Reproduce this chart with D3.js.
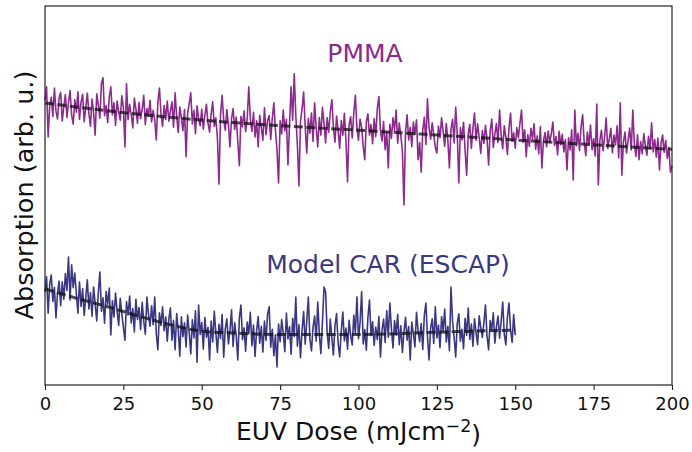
<!DOCTYPE html>
<html>
<head>
<meta charset="utf-8">
<script src="https://cdn.jsdelivr.net/npm/d3@7"></script>
<style>
  body { margin: 0; background: #fff; }
  svg text { font-family: "DejaVu Sans", sans-serif; }
</style>
</head>
<body>
<svg id="chart" width="692" height="452"></svg>
<script>
// dose step of the measurements (mJ/cm^2)
let doseStep = 0.5;

let pmmaValues = [
  75.2, 78.9, 65.5, 73.8, 76.1, 71.0, 78.6, 72.4, 70.3, 75.9,
  77.4, 69.8, 73.6, 76.8, 70.7, 74.9, 77.9, 71.3, 68.9, 75.4,
  72.1, 77.6, 70.2, 74.8, 76.9, 69.6, 73.3, 77.2, 71.8, 68.4,
  75.6, 72.0, 66.0, 77.0, 74.1, 70.5, 79.8, 81.3, 71.2, 73.9,
  69.3, 76.2, 78.9, 71.4, 74.6, 68.6, 75.1, 72.2, 70.0, 76.5,
  73.4, 62.8, 79.7, 70.1, 74.2, 71.5, 67.9, 75.8, 73.0, 69.2,
  74.7, 70.4, 72.9, 76.6, 68.8, 73.1, 71.0, 75.3, 69.5, 72.6,
  70.1, 64.7, 74.8, 78.6, 71.6, 68.3, 73.9, 70.2, 75.1, 69.7,
  72.4, 74.9, 68.1, 77.3, 71.0, 66.7, 73.5, 70.6, 67.2, 72.8,
  60.2, 71.9, 74.4, 77.3, 69.0, 72.6, 66.4, 73.8, 70.2, 68.5,
  72.9, 67.6, 71.4, 74.2, 69.1, 66.8, 71.7, 74.9, 68.3, 70.6,
  65.2, 52.9, 71.6, 76.6, 70.0, 67.3, 72.8, 68.9, 62.8, 70.4,
  73.1, 67.5, 70.8, 64.2, 57.8, 71.0, 68.2, 72.5, 66.9, 70.3,
  78.9, 70.4, 67.0, 72.1, 65.5, 69.8, 62.8, 71.3, 68.0, 64.6,
  73.3, 66.1, 69.9, 71.2, 64.8, 70.5, 74.6, 67.4, 62.0, 53.2,
  69.8, 66.3, 72.7, 67.1, 70.2, 58.0, 68.9, 78.9, 70.0, 82.4,
  71.3, 63.5, 52.4, 69.7, 73.0, 77.5, 68.2, 61.2, 70.4, 66.5,
  71.9, 64.3, 74.6, 68.1, 62.8, 70.7, 66.0, 73.4, 69.2, 63.9,
  70.6, 66.8, 72.3, 75.4, 68.0, 64.1, 71.1, 67.3, 62.5, 69.9,
  66.0, 71.8, 64.4, 53.5, 68.7, 70.9, 65.2, 72.0, 76.6, 67.8,
  64.6, 70.3, 68.1, 62.9, 59.4, 69.5, 71.7, 66.0, 68.8, 63.7,
  70.4, 65.6, 73.0, 76.3, 67.2, 64.4, 69.6, 62.1, 66.8, 57.2,
  68.9, 65.1, 70.6, 67.3, 72.7, 63.8, 69.2, 65.9, 61.6, 47.3,
  66.8, 71.4, 64.7, 68.1, 62.9, 69.5, 66.2, 70.1, 59.4, 64.0,
  56.1, 67.4, 70.8, 63.5, 75.7, 68.0, 64.9, 69.3, 66.1, 62.7,
  61.2, 68.4, 65.3, 70.6, 66.9, 63.0, 69.1, 64.5, 57.2, 67.6,
  70.2, 63.9, 73.5, 66.3, 53.2, 68.0, 64.7, 69.4, 61.8, 55.3,
  66.2, 68.9, 62.4, 67.8, 71.9, 64.6, 69.0, 65.3, 61.1, 67.2,
  63.8, 68.6, 64.9, 58.0, 67.1, 70.3, 62.7, 66.4, 69.1, 64.0,
  72.7, 66.0, 62.3, 68.5, 65.4, 60.8, 67.9, 71.9, 64.3, 66.6,
  62.5, 68.0, 65.3, 69.2, 72.7, 64.1, 67.4, 60.2, 66.1, 63.0,
  67.8, 64.9, 69.0, 62.2, 65.8, 61.0, 68.2, 57.2, 64.4, 66.7,
  62.9, 67.1, 64.0, 66.4, 69.5, 63.2, 65.6, 60.7, 67.0, 63.4,
  66.2, 61.5, 64.8, 56.7, 65.3, 62.0, 67.4, 54.0, 72.7, 63.1,
  66.5, 61.9, 68.2, 71.4, 64.0, 60.5, 66.8, 63.3, 68.7, 62.1,
  65.0, 60.4, 74.3, 52.7, 64.6, 67.3, 61.8, 65.5, 70.6, 62.4,
  64.9, 67.8, 61.3, 66.0, 63.4, 68.5, 59.9, 74.6, 55.3, 64.1,
  66.8, 61.2, 64.5, 67.9, 62.0, 72.7, 63.6, 60.3, 66.1, 59.4,
  64.3, 61.0, 66.4, 63.2, 60.6, 65.7, 62.4, 69.3, 61.5, 64.8,
  60.1, 65.2, 56.7, 63.9, 66.0, 61.4, 64.6, 59.8, 62.7, 56.1,
  57.8
];

let escapValues = [
  24.0, 28.1, 18.4, 26.2, 28.6, 21.5, 25.3, 17.1, 23.8, 27.0,
  20.4, 26.8, 22.1, 29.0, 24.5, 33.4, 21.9, 31.3, 25.2, 29.1,
  23.6, 18.4, 26.7, 20.2, 24.9, 17.8, 22.6, 27.3, 19.5, 23.9,
  17.6, 25.4, 21.0, 16.3, 23.8, 29.4, 18.9, 22.5, 15.7, 24.2,
  20.8, 25.1, 12.6, 21.7, 17.4, 23.8, 19.0, 15.1, 22.4, 18.2,
  14.6, 11.2, 21.5, 17.9, 23.0, 15.8, 19.6, 13.4, 22.1, 16.7,
  19.9, 14.0, 21.3, 16.2, 12.8, 22.7, 18.1, 14.9, 20.4, 15.3,
  22.7, 12.9, 8.6, 18.5, 15.1, 20.1, 13.7, 17.4, 10.9, 16.8,
  19.8, 11.2, 16.5, 8.6, 18.3, 13.9, 6.9, 17.4, 12.1, 15.8,
  9.4, 17.9, 13.2, 7.5, 16.6, 11.8, 19.0, 5.3, 20.6, 12.7,
  15.9, 8.8, 17.2, 12.0, 14.6, 5.9, 16.3, 10.7, 18.9, 13.1,
  7.9, 15.4, 11.6, 18.0, 6.6, 14.2, 16.9, 10.2, 13.7, 19.3,
  9.5, 15.8, 12.4, 5.9, 17.1, 20.6, 11.3, 14.5, 8.2, 16.0,
  12.9, 18.6, 9.7, 15.2, 6.8, 13.8, 17.5, 10.4, 14.9, 8.0,
  16.3, 11.1, 18.2, 20.1, 9.3, 14.1, 7.0, 12.6, 4.0, 15.5,
  10.8, 16.7, 13.0, 8.1, 18.4, 11.5, 14.8, 7.4, 17.0, 12.2,
  22.7, 9.6, 15.3, 6.5, 13.9, 18.8, 10.1, 16.2, 22.7, 11.4,
  8.3, 14.7, 17.6, 10.9, 21.4, 12.8, 7.6, 16.0, 25.4, 24.1,
  13.2, 9.0, 16.8, 11.7, 7.2, 15.1, 18.3, 10.5, 6.7, 13.6,
  18.7, 11.0, 14.4, 8.8, 16.5, 12.3, 9.9, 17.8, 13.0, 22.7,
  11.6, 15.9, 24.1, 10.2, 14.0, 8.5, 17.2, 21.9, 12.4, 16.1,
  9.8, 14.7, 11.3, 17.5, 6.7, 13.9, 16.8, 10.6, 19.0, 12.0,
  21.1, 14.3, 9.1, 16.4, 12.6, 18.1, 10.0, 15.0, 7.9, 13.5,
  17.3, 11.2, 14.8, 5.9, 16.0, 12.9, 9.4, 18.6, 13.7, 10.8,
  15.6, 8.7, 17.9, 21.1, 12.1, 5.9, 14.4, 16.9, 10.3, 20.1,
  11.8, 15.2, 9.2, 17.4, 13.6, 19.5, 10.7, 14.9, 8.4, 25.4,
  16.3, 12.0, 6.7, 15.7, 18.2, 10.9, 14.1, 8.9, 17.0, 12.5,
  19.8, 11.4, 15.5, 9.6, 16.9, 13.2, 10.0, 17.7, 14.6, 11.9,
  15.8, 20.6, 12.3, 8.6, 16.4, 13.9, 18.5, 10.4, 14.8, 17.6,
  11.7, 16.2, 21.4, 12.8, 9.9, 17.3, 21.1, 14.0, 10.6, 18.0,
  12.5
];

// fitted curves
let pmmaFitDose = [0, 25, 50, 75, 100, 125, 150, 175, 200];
let pmmaFit = [74.6, 72.0, 70.0, 68.5, 67.3, 66.0, 64.7, 63.4, 62.2];
let escapFitDose = [0, 10, 20, 30, 40, 50, 60, 75, 100, 125, 150];
let escapFit = [24.9, 22.4, 20.1, 17.6, 15.3, 13.6, 13.1, 12.7, 12.7, 13.3, 13.9];

let xTicks = [0, 25, 50, 75, 100, 125, 150, 175, 200];

let width = 692;
let height = 452;
let margin = {top: 6, right: 20, bottom: 67, left: 45};
let contentWidth = width - margin.left - margin.right;
let contentHeight = height - margin.top - margin.bottom;

let pmmaColor = '#8c2a8e';
let escapColor = '#3a3783';

let x = d3.scaleLinear().domain([0, 200]).range([0, contentWidth]);
let y = d3.scaleLinear().domain([-0.8, 100.5]).range([contentHeight, 0]);

let svg = d3.select('#chart');
let g = svg.append('g').attr('transform', 'translate(' + margin.left + ',' + margin.top + ')');

function toPoints(values) {
    return values.map(function (v, i) { return [i * doseStep, v]; });
}

let line = d3.line()
    .x(function (d) { return x(d[0]); })
    .y(function (d) { return y(d[1]); });

let fitLine = d3.line()
    .curve(d3.curveMonotoneX)
    .x(function (d) { return x(d[0]); })
    .y(function (d) { return y(d[1]); });

g.append('path').datum(toPoints(pmmaValues))
    .attr('d', line)
    .attr('fill', 'none')
    .attr('stroke', pmmaColor)
    .attr('stroke-width', 1.6)
    .attr('stroke-linejoin', 'round');

g.append('path').datum(toPoints(escapValues))
    .attr('d', line)
    .attr('fill', 'none')
    .attr('stroke', escapColor)
    .attr('stroke-width', 1.6)
    .attr('stroke-linejoin', 'round');

g.append('path').datum(d3.zip(pmmaFitDose, pmmaFit))
    .attr('d', fitLine)
    .attr('fill', 'none')
    .attr('stroke', '#111')
    .attr('stroke-opacity', 0.75)
    .attr('stroke-width', 3)
    .attr('stroke-dasharray', '9,3.5');

g.append('path').datum(d3.zip(escapFitDose, escapFit))
    .attr('d', fitLine)
    .attr('fill', 'none')
    .attr('stroke', '#111')
    .attr('stroke-opacity', 0.75)
    .attr('stroke-width', 3)
    .attr('stroke-dasharray', '9,3.5');

// x axis
let xAxis = d3.axisBottom(x).tickValues(xTicks).tickSize(5).tickPadding(7);
let xg = g.append('g').attr('transform', 'translate(0,' + contentHeight + ')').call(xAxis);
xg.select('.domain').remove();
xg.selectAll('line').attr('stroke', '#222').attr('stroke-width', 1.1);
xg.selectAll('text').attr('font-size', '18px').attr('fill', '#111')
    .style('font-family', '"DejaVu Sans", sans-serif');

// frame
g.append('rect')
    .attr('width', contentWidth)
    .attr('height', contentHeight)
    .attr('fill', 'none')
    .attr('stroke', '#222')
    .attr('stroke-width', 1.2);

// labels
let xLabel = svg.append('text')
    .attr('x', margin.left + contentWidth / 2)
    .attr('y', 440)
    .attr('text-anchor', 'middle')
    .attr('font-size', '25px')
    .attr('fill', '#111');
xLabel.append('tspan').text('EUV Dose (mJcm');
xLabel.append('tspan').attr('dy', '-0.45em').attr('font-size', '17.5px').text('\u22122');
xLabel.append('tspan').attr('dy', '0.45em').text(')');

svg.append('text')
    .attr('transform', 'translate(33,195) rotate(-90)')
    .attr('text-anchor', 'middle')
    .attr('font-size', '25.5px')
    .attr('fill', '#111')
    .text('Absorption (arb. u.)');

svg.append('text')
    .attr('x', 365)
    .attr('y', 62)
    .attr('text-anchor', 'middle')
    .attr('font-size', '25px')
    .attr('fill', pmmaColor)
    .text('PMMA');

svg.append('text')
    .attr('x', 388)
    .attr('y', 273)
    .attr('text-anchor', 'middle')
    .attr('font-size', '25px')
    .attr('fill', escapColor)
    .text('Model CAR (ESCAP)');
</script>
</body>
</html>
